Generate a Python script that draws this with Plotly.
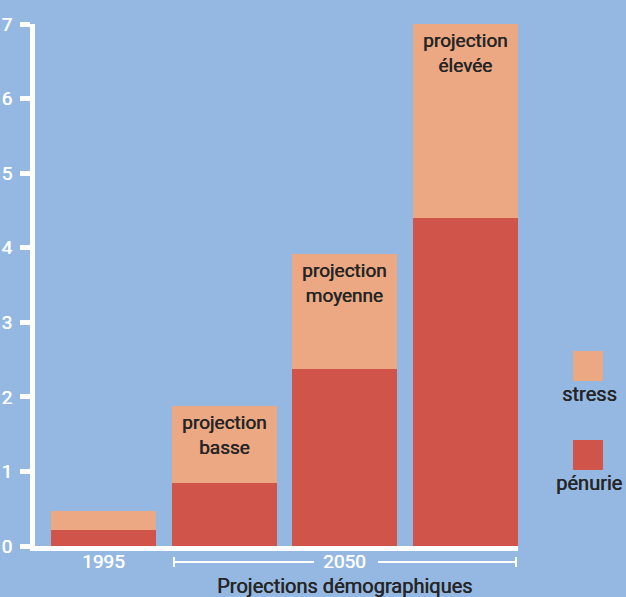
import plotly.graph_objects as go

categories = ["1995", "projection basse", "projection moyenne", "projection élevée"]
bar_labels = ["", "projection<br>basse", "projection<br>moyenne", "projection<br>élevée"]
penurie = [0.21, 0.85, 2.38, 4.40]
stress = [0.26, 1.03, 1.53, 2.60]
y_ticks = [0, 1, 2, 3, 4, 5, 6, 7]
x_tick_labels = ["1995", "2050"]
x_tick_pos = [0, 2]

BG = "#95b8e2"
C_STRESS = "#eba882"
C_PEN = "#d0544a"
TXT = "#252525"
FONT = "Roboto"
SH_D = "0.5px 0 0 #252525"
SH_W = "0.5px 0 0 #ffffff"

xs = list(range(len(categories)))
totals = [p + s for p, s in zip(penurie, stress)]

L, R, T, B = 35, 518, 24, 546

fig = go.Figure()
fig.add_bar(x=xs, y=penurie, marker=dict(color=C_PEN, line=dict(width=0)), width=0.87, name="pénurie")
fig.add_bar(x=xs, y=stress, marker=dict(color=C_STRESS, line=dict(width=0)), width=0.87, name="stress")

for x, t, lab in zip(xs, totals, bar_labels):
    if lab:
        fig.add_annotation(x=x, y=t, text=lab, showarrow=False, yanchor="top", yshift=-3,
                           font=dict(family=FONT, size=19, color=TXT, shadow=SH_D))

# x labels
fig.add_annotation(x=x_tick_pos[0], y=0, yref="y", text=x_tick_labels[0], showarrow=False,
                   yanchor="middle", yshift=-15, font=dict(family=FONT, size=19, color="white", shadow=SH_W))
fig.add_annotation(x=x_tick_pos[1], y=0, yref="y", text=x_tick_labels[1], showarrow=False,
                   yanchor="middle", yshift=-15, font=dict(family=FONT, size=19, color="white", shadow=SH_W))
fig.add_annotation(x=x_tick_pos[1], y=0, yref="y", text="Projections démographiques", showarrow=False,
                   yanchor="middle", yshift=-40, font=dict(family=FONT, size=20, color=TXT, shadow=SH_D))

# bracket for 2050
def xpx_to_data(px, x0=-0.5675, x1=3.434):
    return x0 + (px - L) / (R - L) * (x1 - x0)

by = (B - 562) / (B - T)
for p0, p1 in [(173, 314), (378, 517)]:
    fig.add_shape(type="line", xref="x", yref="paper", x0=xpx_to_data(p0), x1=xpx_to_data(p1), y0=by, y1=by,
                  line=dict(color="white", width=2))
for pc in [174, 516]:
    fig.add_shape(type="line", xref="x", yref="paper", x0=xpx_to_data(pc), x1=xpx_to_data(pc),
                  y0=by - 5 / (B - T), y1=by + 5 / (B - T), line=dict(color="white", width=2))

# legend
def px_to_paper(px, py):
    return ((px - L) / (R - L), (B - py) / (B - T))

for (y0p, y1p, col, lab, ty) in [(351, 381, C_STRESS, "stress", 394), (440, 470, C_PEN, "pénurie", 483)]:
    xa, ya = px_to_paper(573, y1p)
    xb, yb = px_to_paper(603, y0p)
    fig.add_shape(type="rect", xref="paper", yref="paper", x0=xa, x1=xb, y0=ya, y1=yb,
                  fillcolor=col, line=dict(width=0))
    tx, tyy = px_to_paper(589, ty)
    fig.add_annotation(xref="paper", yref="paper", x=tx, y=tyy, text=lab, showarrow=False,
                       xanchor="center", yanchor="middle",
                       font=dict(family=FONT, size=20, color=TXT, shadow=SH_D))

fig.update_layout(
    width=626, height=597,
    paper_bgcolor=BG, plot_bgcolor=BG,
    barmode="stack", showlegend=False,
    margin=dict(l=L, r=626 - R, t=T, b=597 - B, autoexpand=False),
    xaxis=dict(range=[-0.5675, 3.434], showgrid=False, zeroline=False, showticklabels=False,
               showline=True, linecolor="white", linewidth=5, ticks="", automargin=False),
    yaxis=dict(range=[0, 7], tickvals=y_ticks, showgrid=False, zeroline=False, automargin=False,
               showline=True, linecolor="white", linewidth=5, ticks="outside", ticklen=10,
               tickwidth=5, tickcolor="white", ticklabelstandoff=4,
               tickfont=dict(family=FONT, size=19, color="white", shadow=SH_W)),
    bargap=0,
)

fig.write_html("out.html")
